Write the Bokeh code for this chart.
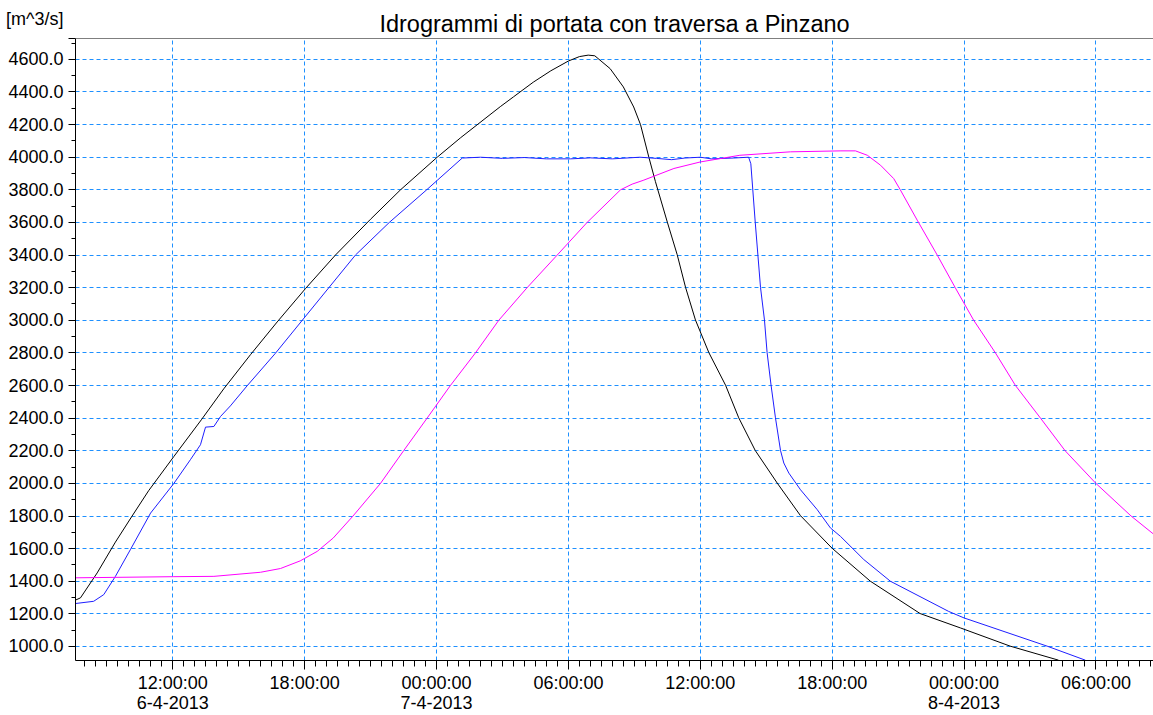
import pandas as pd
from bokeh.plotting import figure
from bokeh.models import (FixedTicker, CustomJSTickFormatter, Range1d, Span)
from bokeh.embed import file_html
from bokeh.resources import INLINE

# ---------------- data (hours after 2013-04-06 00:00, discharge m^3/s) ----------------
BASE = "2013-04-06 00:00"

black_h = [7.55, 7.8, 8.56, 9.39, 10.15, 10.9, 12.05, 13.3, 14.32, 15.54, 16.75, 18.04,
           19.4, 21.0, 22.36, 24.03, 25.1, 26.9, 27.5, 28.4, 29.2, 30.0, 30.5, 30.9, 31.2,
           31.9, 32.5, 32.97, 33.28, 33.66, 33.96, 34.5, 34.95, 35.33, 35.78, 36.39, 37.15,
           37.75, 38.5, 39.5, 40.56, 42.0, 43.74, 46.0, 47.83, 50.1, 52.3]
black_q = [1283, 1298, 1451, 1640, 1800, 1955, 2165, 2390, 2580, 2790, 2990, 3195,
           3400, 3620, 3800, 4000, 4120, 4310, 4370, 4460, 4530, 4590, 4617, 4626, 4622,
           4543, 4431, 4308, 4200, 4000, 3850, 3602, 3402, 3202, 3002, 2802, 2602,
           2402, 2202, 2002, 1802, 1602, 1400, 1202, 1114, 1002, 916]

blue_h = [7.55, 8.4, 8.86, 9.39, 10.08, 10.99, 12.05, 12.8, 13.26, 13.49, 13.87, 14.17,
          14.62, 15.38, 16.67, 17.89, 19.1, 20.31, 21.85, 23.55, 24.03, 25.17, 26.0, 27.0,
          28.0, 29.0, 30.1, 31.0, 32.0, 33.25, 34.0, 34.7, 35.3, 36.0, 36.5, 37.5, 38.2,
          38.3, 38.5, 38.74, 38.92, 39.04, 39.22, 39.42, 39.65, 39.8, 40.03, 40.56, 41.32,
          41.92, 42.38, 43.44, 44.65, 47.3, 48.0, 51.78, 53.52]
blue_q = [1263, 1277, 1318, 1430, 1596, 1818, 2000, 2145, 2237, 2345, 2349, 2410,
          2475, 2598, 2798, 3000, 3200, 3400, 3600, 3800, 3858, 3995, 4000, 3993,
          3998, 3990, 3990, 3996, 3990, 4000, 3993, 3985, 3995, 4000, 3990, 3995, 4000,
          3960, 3602, 3202, 3002, 2802, 2602, 2402, 2202, 2125, 2063, 1961, 1839,
          1727, 1675, 1533, 1400, 1215, 1175, 1002, 916]

magenta_h = [7.55, 12.05, 13.87, 15.99, 16.9, 17.8, 18.57, 19.3, 20.2, 21.45, 22.5, 23.57,
             24.63, 25.77, 26.83, 28.12, 29.49, 30.85, 32.37, 32.9, 33.4, 34.8, 36.0, 37.8,
             40.1, 42.4, 43.06, 43.6, 44.2, 44.8, 45.1, 45.87, 46.78, 47.6, 48.44, 49.43,
             50.34, 51.48, 52.6, 54.0, 55.6, 56.65]
magenta_q = [1421, 1428, 1430, 1455, 1478, 1525, 1583, 1665, 1800, 2000, 2200, 2400,
             2600, 2800, 3000, 3200, 3400, 3600, 3800, 3835, 3858, 3931, 3971, 4012,
             4033, 4039, 4039, 4012, 3951, 3869, 3800, 3614, 3400, 3200, 3000, 2800,
             2600, 2400, 2200, 2000, 1800, 1686]

y_major = list(range(1000, 4601, 200))
y_minor = list(range(900, 4701, 100))
x_major_h = [12, 18, 24, 30, 36, 42, 48, 54]

TITLE = "Idrogrammi di portata con traversa a Pinzano"
UNIT = "[m^3/s]"


def to_dt(hours):
    return pd.Timestamp(BASE) + pd.to_timedelta(pd.Series(hours, dtype=float), unit="h")


def to_ms(hours):
    return [float((pd.Timestamp(BASE) + pd.Timedelta(hours=h)).value // 10**6) for h in hours]


FONT = "Liberation Sans"
Y0, Y1 = 914, 4728

p = figure(width=1153, height=715, x_axis_type="datetime",
           output_backend="svg", toolbar_location=None,
           min_border_left=75, min_border_right=0, min_border_top=38, min_border_bottom=54,
           x_range=Range1d(*to_ms([7.574, 56.62])), y_range=Range1d(Y0, Y1))

p.title.text = TITLE
p.title.align = "center"
p.title.text_font = FONT
p.title.text_font_size = "23.5px"
p.title.text_font_style = "normal"
p.title.text_color = "#000000"
p.title.standoff = 4

p.outline_line_color = None
p.background_fill_color = "white"
p.border_fill_color = "white"

# series
p.line(to_dt(black_h), black_q, line_color="#000000", line_width=1)
p.line(to_dt(blue_h), blue_q, line_color="#1E1EFF", line_width=1)
p.line(to_dt(magenta_h), magenta_q, line_color="#FF00FF", line_width=1)

# x axis: time on first line, date on second line for the first tick and each midnight
xa = p.xaxis[0]
xa.ticker = FixedTicker(ticks=to_ms(x_major_h),
                        minor_ticks=to_ms([7.5 + 0.5 * i for i in range(100)]))
xa.formatter = CustomJSTickFormatter(code="""
const d = new Date(tick);
const p2 = (n) => String(n).padStart(2, "0");
const t = p2(d.getUTCHours()) + ":" + p2(d.getUTCMinutes()) + ":" + p2(d.getUTCSeconds());
if (index == 0 || d.getUTCHours() == 0) {
  return t + "\\n" + d.getUTCDate() + "-" + (d.getUTCMonth() + 1) + "-" + d.getUTCFullYear();
}
return t;
""")
xa.major_tick_out = 9
xa.major_tick_in = 0
xa.minor_tick_out = 6
xa.minor_tick_in = 0
xa.major_label_standoff = 3
xa.major_label_text_font = FONT
xa.major_label_text_font_size = "18px"
xa.major_label_text_line_height = 1.0
xa.major_label_text_color = "#000000"
xa.axis_line_color = "#000000"
xa.major_tick_line_color = "#000000"
xa.minor_tick_line_color = "#000000"

# y axis (unit label carried by a tick at the top edge of the frame)
ya = p.yaxis[0]
ya.ticker = FixedTicker(ticks=y_major + [Y1], minor_ticks=y_minor)
ya.formatter = CustomJSTickFormatter(args=dict(unit=UNIT, top=Y1), code="""
if (tick >= top - 1) { return unit + "\\n\\n"; }
return tick.toFixed(1);
""")
ya.major_tick_out = 7
ya.major_tick_in = 0
ya.minor_tick_out = 4
ya.minor_tick_in = 0
ya.major_label_standoff = 5
ya.major_label_text_font = FONT
ya.major_label_text_font_size = "18px"
ya.major_label_text_line_height = 1.0
ya.major_label_text_color = "#000000"
ya.axis_line_color = "#000000"

# grid
for g in (p.xgrid[0], p.ygrid[0]):
    g.grid_line_color = "#1E90FF"
    g.grid_line_dash = "4 3"
    g.grid_line_width = 1

# top frame line
p.add_layout(Span(location=Y1, dimension="width", line_color="#000000", line_width=1))

open("out.html", "w").write(file_html(p, INLINE))
